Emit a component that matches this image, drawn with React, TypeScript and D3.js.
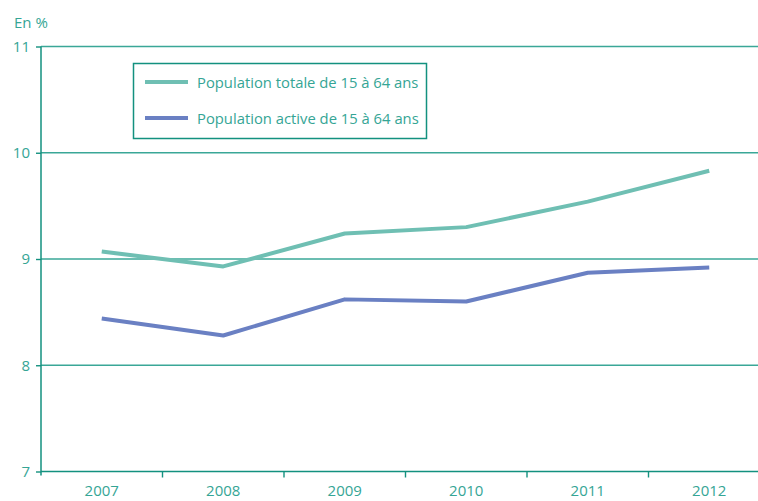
import { useEffect, useRef } from "react";
import * as d3 from "d3";

const years = ["2007", "2008", "2009", "2010", "2011", "2012"];
const totale = [9.07, 8.93, 9.24, 9.3, 9.54, 9.83];
const active = [8.44, 8.28, 8.62, 8.6, 8.87, 8.92];
const yTicks = [7, 8, 9, 10, 11];
const seriesLabels = [
  "Population totale de 15 à 64 ans",
  "Population active de 15 à 64 ans",
];

export default function App() {
  const svgRef = useRef<SVGSVGElement>(null);

  useEffect(() => {
    const W = 758;
    const H = 501;
    const left = 41;
    const top = 46.5;
    const bottom = 471.5;
    const axisColor = "#13917f";
    const textColor = "#35a595";
    const font = "'Open Sans', 'Noto Sans', sans-serif";

    const svg = d3.select(svgRef.current);
    svg.selectAll("*").remove();
    svg.attr("width", W).attr("height", H);

    const x = d3.scaleBand().domain(years).range([left, 770]);
    const y = d3.scaleLinear().domain([7, 11]).range([bottom, top]);

    // Grid lines
    svg
      .append("g")
      .selectAll("line")
      .data(yTicks.filter((t) => t !== 7))
      .enter()
      .append("line")
      .attr("x1", left)
      .attr("x2", W)
      .attr("y1", (d) => y(d))
      .attr("y2", (d) => y(d))
      .attr("stroke", "#3aa797")
      .attr("stroke-width", 1.6);

    // Y axis
    const yAxis = svg
      .append("g")
      .attr("transform", `translate(${left},0)`)
      .call(d3.axisLeft(y).tickValues(yTicks).tickSize(5).tickPadding(6).tickFormat(d3.format("d")));
    yAxis.select(".domain").remove();
    yAxis.selectAll(".tick line").attr("stroke", axisColor).attr("stroke-width", 1.4);
    yAxis
      .selectAll("text")
      .attr("fill", textColor)
      .attr("font-size", 15)
      .attr("font-family", font);
    svg
      .append("line")
      .attr("x1", left)
      .attr("x2", left)
      .attr("y1", top)
      .attr("y2", bottom + 4)
      .attr("stroke", axisColor)
      .attr("stroke-width", 1.5);

    // X axis
    const xAxis = svg
      .append("g")
      .attr("transform", `translate(0,${bottom})`)
      .call(d3.axisBottom(x).tickSize(0).tickPadding(14));
    xAxis.select(".domain").remove();
    xAxis
      .selectAll("text")
      .attr("fill", textColor)
      .attr("font-size", 15)
      .attr("font-family", font);
    svg
      .append("line")
      .attr("x1", left)
      .attr("x2", W)
      .attr("y1", bottom)
      .attr("y2", bottom)
      .attr("stroke", axisColor)
      .attr("stroke-width", 1.5);
    svg
      .append("g")
      .selectAll("line")
      .data(years.slice(1))
      .enter()
      .append("line")
      .attr("x1", (d) => x(d)!)
      .attr("x2", (d) => x(d)!)
      .attr("y1", bottom)
      .attr("y2", bottom + 6)
      .attr("stroke", axisColor)
      .attr("stroke-width", 1.4);

    // Unit
    svg
      .append("text")
      .attr("x", 14)
      .attr("y", 28)
      .attr("fill", textColor)
      .attr("font-size", 15)
      .attr("font-family", font)
      .text("En %");

    // Lines
    const colors = ["#6fbfb3", "#6a80c3"];
    const line = d3
      .line<number>()
      .x((_, i) => x(years[i])! + x.bandwidth() / 2)
      .y((d) => y(d));
    [totale, active].forEach((s, i) => {
      svg
        .append("path")
        .datum(s)
        .attr("d", line)
        .attr("fill", "none")
        .attr("stroke", colors[i])
        .attr("stroke-width", 4)
        .attr("stroke-linejoin", "round");
    });

    // Legend
    const lg = svg.append("g");
    lg.append("rect")
      .attr("x", 133.5)
      .attr("y", 63.5)
      .attr("width", 293)
      .attr("height", 75)
      .attr("fill", "#fff")
      .attr("stroke", axisColor)
      .attr("stroke-width", 1.5);
    seriesLabels.forEach((label, i) => {
      const ly = 82 + i * 36;
      lg.append("line")
        .attr("x1", 145)
        .attr("x2", 188)
        .attr("y1", ly)
        .attr("y2", ly)
        .attr("stroke", colors[i])
        .attr("stroke-width", 4);
      lg.append("text")
        .attr("x", 197)
        .attr("y", ly + 5.5)
        .attr("fill", textColor)
        .attr("font-size", 14.8)
        .attr("font-family", font)
        .text(label);
    });
  }, []);

  return (
    <svg
      ref={svgRef}
      style={{ position: "absolute", left: 0, top: 0, background: "#fff" }}
    />
  );
}
